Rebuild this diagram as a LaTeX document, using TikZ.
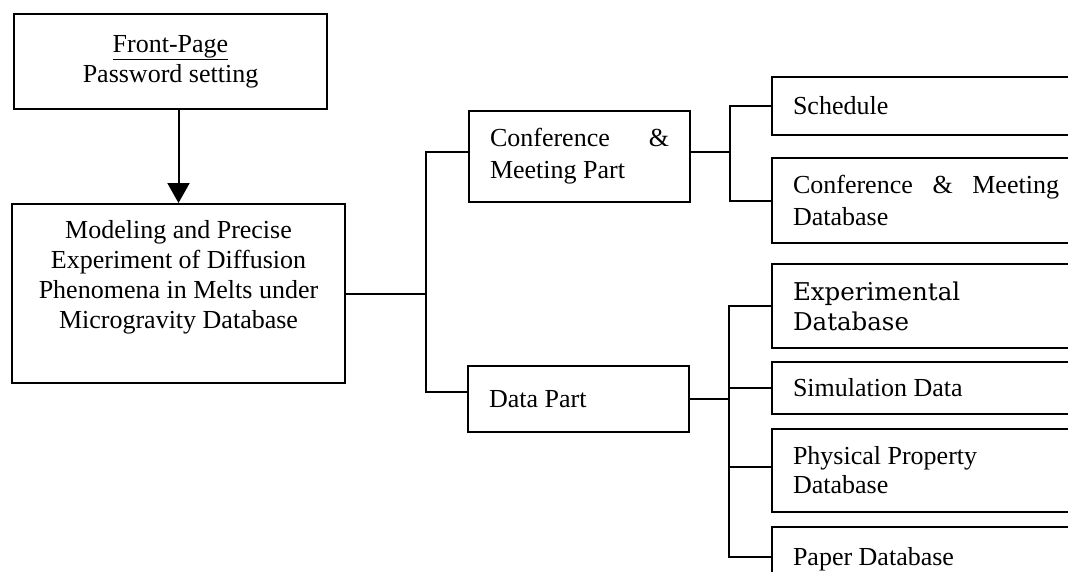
\documentclass[tikz,border=0pt]{standalone}
\usepackage{fontspec}
\setmainfont{Liberation Serif}
\newfontfamily\centfont{DejaVu Serif}
\usetikzlibrary{arrows.meta}
\begin{document}
\begin{tikzpicture}[x=1pt,y=-1pt,
  box/.style={draw, line width=2pt, inner sep=0pt, font=\fontsize{26}{30}\selectfont},
  lbox/.style={box, align=left, inner xsep=21pt, anchor=west,
    execute at begin node={\spaceskip=0pt\xspaceskip=0pt\relax}},
  wire/.style={line width=2pt}]
\clip (0,0) rectangle (1068,571);
\fill[white] (0,0) rectangle (1068,571);
% left column
\node[box, minimum width=313pt, minimum height=95pt, align=center] (front) at (170.5,61.5)
  {\underline{Front-Page}\\Password setting};
\node[box, minimum width=333pt, minimum height=179pt, align=center] (main) at (178.5,293.5)
  {Modeling and Precise\\Experiment of Diffusion\\Phenomena in Melts under\\Microgravity Database\\\strut};
% middle column
\node[lbox, text width=179pt, minimum height=91pt, font=\fontsize{26}{32}\selectfont] (conf) at (468,156)
  {Conference\hfill\&\\Meeting Part};
\node[lbox, text width=179pt, minimum height=66pt] (data) at (467,399)
  {Data Part};
% right column
\node[lbox, text width=266pt, minimum height=58pt] (sched) at (771,106) {Schedule};
\node[lbox, text width=266pt, minimum height=85pt, font=\fontsize{26}{32}\selectfont] (cdb) at (771,200.5)
  {Conference\hfill\&\hfill Meeting\\Database};
\node[lbox, text width=266pt, minimum height=84pt, font=\centfont\fontsize{24.5}{30}\selectfont] (exp) at (771,306)
  {Experimental\\Database};
\node[lbox, text width=266pt, minimum height=52pt] (sim) at (771,388) {Simulation Data};
\node[lbox, text width=266pt, minimum height=83pt, font=\fontsize{26}{29}\selectfont] (phys) at (771,470.5)
  {Physical Property\\Database};
\node[lbox, text width=266pt, minimum height=64pt] (paper) at (771,559) {Paper Database};
% trunks
\coordinate (t1) at (426,0);
\coordinate (t2) at (730,0);
\coordinate (t3) at (729,0);
% connectors
\draw[wire, -{Triangle[width=22pt,length=20pt]}] (front.south -| main.north) -- (main.north);
\draw[wire] (main.east) -- (main.east -| t1);
\draw[wire] ([yshift=4pt]conf.west) -- ([yshift=4pt]conf.west -| t1) -- ([yshift=7pt]data.west -| t1) -- ([yshift=7pt]data.west);
\draw[wire] ([yshift=4pt]conf.east) -- ([yshift=4pt]conf.east -| t2);
\draw[wire] (sched.west) -- (sched.west -| t2) -- (cdb.west -| t2) -- (cdb.west);
\draw[wire] (data.east) -- (data.east -| t3);
\draw[wire] (exp.west) -- (exp.west -| t3) -- ([yshift=2pt]paper.west -| t3) -- ([yshift=2pt]paper.west);
\draw[wire] (sim.west) -- (sim.west -| t3);
\draw[wire] ([yshift=4pt]phys.west) -- ([yshift=4pt]phys.west -| t3);
\end{tikzpicture}
\end{document}
